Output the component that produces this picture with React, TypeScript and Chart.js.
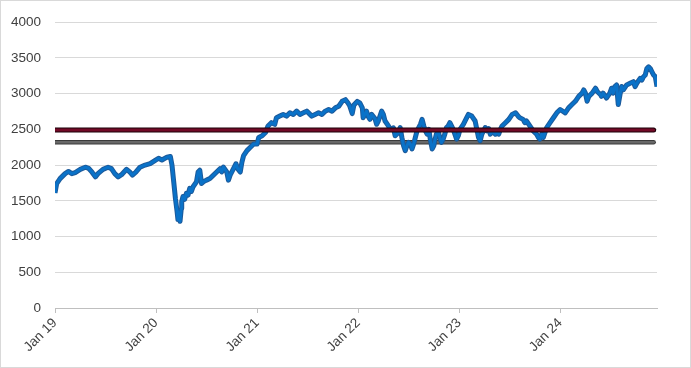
import React, { useEffect, useRef } from "react";
import { Chart, registerables } from "chart.js";

Chart.register(...registerables);

// x = months since Jan 2019
const months = [
  0.0, 0.2, 0.6, 1.2, 1.6, 2.0, 2.4, 3.0, 3.6, 4.0, 4.4, 4.8, 5.1, 5.7, 6.3, 6.7, 7.1, 7.5, 7.9, 8.5,
  8.9, 9.2, 9.6, 10.1, 10.7, 11.3, 11.9, 12.3, 12.7, 13.3, 13.7, 13.9, 14.1, 14.3, 14.5, 14.6, 14.7, 14.85, 15.0, 15.05,
  15.2, 15.4, 15.6, 15.8, 16.0, 16.2, 16.4, 16.8, 17.0, 17.2, 17.4, 17.6, 18.0, 18.4, 18.8, 19.2, 19.6, 19.8, 20.0, 20.4,
  20.6, 20.8, 21.2, 21.5, 21.7, 22.0, 22.2, 22.4, 22.8, 23.2, 23.6, 24.0, 24.2, 24.6, 25.0, 25.3, 25.7, 26.1, 26.3, 26.7,
  27.1, 27.5, 27.9, 28.3, 28.7, 29.1, 29.5, 29.9, 30.5, 30.9, 31.3, 31.7, 32.1, 32.5, 32.9, 33.3, 33.7, 34.1, 34.5, 34.8,
  35.0, 35.3, 35.5, 35.9, 36.2, 36.5, 36.6, 36.8, 37.0, 37.2, 37.4, 37.6, 38.0, 38.2, 38.4, 38.8, 39.0, 39.2, 39.6, 39.8,
  40.2, 40.4, 40.8, 41.0, 41.2, 41.4, 41.6, 41.8, 42.0, 42.2, 42.4, 42.6, 42.8, 43.0, 43.4, 43.6, 43.8, 44.0, 44.2, 44.4,
  44.6, 44.8, 45.0, 45.1, 45.3, 45.5, 45.7, 45.9, 46.1, 46.3, 46.5, 46.7, 46.9, 47.3, 47.7, 47.9, 48.1, 48.5, 48.9, 49.1,
  49.5, 49.9, 50.1, 50.3, 50.5, 50.7, 50.9, 51.1, 51.3, 51.5, 51.7, 51.9, 52.3, 52.5, 52.7, 52.9, 53.1, 53.5, 53.9, 54.3,
  54.7, 55.0, 55.2, 55.6, 55.8, 56.0, 56.4, 56.8, 57.2, 57.4, 57.6, 57.8, 58.0, 58.2, 58.4, 58.8, 59.2, 59.6, 60.0, 60.6,
  61.0, 61.4, 61.8, 62.2, 62.6, 62.8, 63.0, 63.2, 63.4, 63.8, 64.2, 64.4, 64.8, 64.9, 65.1, 65.5, 65.9, 66.1, 66.3, 66.5,
  66.7, 66.9, 67.1, 67.3, 67.5, 67.9, 68.3, 68.7, 68.9, 69.1, 69.5, 69.7, 69.9, 70.1, 70.3, 70.5, 70.7, 70.9, 71.1, 71.3,
  71.5,
];

const indexValues = [
  1610, 1740, 1810, 1880, 1910, 1880, 1895, 1940, 1970, 1955, 1900, 1835, 1880, 1940, 1970, 1950, 1880, 1835, 1865, 1940,
  1900, 1860, 1900, 1970, 2000, 2020, 2065, 2095, 2070, 2110, 2120, 1995, 1765, 1535, 1350, 1237, 1280, 1213, 1397, 1490,
  1560, 1520, 1604, 1580, 1673, 1630, 1696, 1765, 1903, 1927, 1742, 1765, 1789, 1811, 1858, 1903, 1949, 1903, 1972, 1903,
  1789, 1858, 1949, 2018, 1949, 1903, 2041, 2133, 2202, 2248, 2294, 2294, 2386, 2409, 2455, 2547, 2593, 2570, 2662, 2685,
  2708, 2685, 2731, 2708, 2754, 2708, 2731, 2754, 2685, 2708, 2731, 2708, 2754, 2777, 2754, 2800, 2823, 2892, 2915, 2869,
  2830, 2720, 2840, 2890, 2870, 2800, 2662, 2708, 2754, 2680, 2639, 2708, 2650, 2570, 2616, 2754, 2708, 2616, 2547, 2500,
  2520, 2409, 2455, 2524, 2386, 2271, 2202, 2271, 2317, 2294, 2225, 2294, 2386, 2478, 2570, 2639, 2547, 2478, 2432, 2500,
  2340, 2225, 2271, 2340, 2432, 2478, 2386, 2317, 2363, 2432, 2524, 2547, 2593, 2500, 2363, 2410, 2500, 2570, 2662, 2708,
  2685, 2616, 2500, 2386, 2340, 2432, 2478, 2524, 2478, 2510, 2432, 2478, 2432, 2478, 2432, 2500, 2547, 2593, 2639, 2708,
  2731, 2685, 2662, 2639, 2593, 2616, 2547, 2478, 2432, 2386, 2363, 2432, 2386, 2455, 2524, 2593, 2662, 2731, 2777, 2731,
  2800, 2846, 2892, 2961, 3006, 3052, 3006, 2892, 2961, 3006, 3075, 3029, 2984, 2961, 3006, 2938, 3006, 3075, 3006, 3098,
  3121, 2846, 2984, 3098, 3052, 3121, 3144, 3167, 3098, 3144, 3213, 3190, 3236, 3259, 3351, 3374, 3351, 3305, 3259, 3236,
  3098,
];

const levelRange = [0, 71.1];
const redLevel = [2490, 2490];
const greyLevel = [2320, 2320];

const yearTicks = [0, 12, 24, 36, 48, 60];
const yearLabels = ["Jan 19", "Jan 20", "Jan 21", "Jan 22", "Jan 23", "Jan 24"];

export default function App() {
  const ref = useRef<HTMLCanvasElement | null>(null);

  useEffect(() => {
    document.body.style.margin = "0";
    if (!ref.current) return;
    Chart.defaults.font.family = "'Liberation Sans', Arial, sans-serif";
    const series = months.map((m, i) => ({ x: m, y: indexValues[i] }));
    const red = levelRange.map((m, i) => ({ x: m, y: redLevel[i] }));
    const grey = levelRange.map((m, i) => ({ x: m, y: greyLevel[i] }));
    const base = { pointRadius: 0, tension: 0, fill: false, borderJoinStyle: "round" as const };
    const chart = new Chart(ref.current, {
      type: "line",
      data: {
        datasets: [
          { ...base, data: grey, borderColor: "#3a3a3a", borderWidth: 4.5, order: 10, borderCapStyle: "round" },
          { ...base, data: grey, borderColor: "#686868", borderWidth: 2.5, order: 9, borderCapStyle: "round" },
          { ...base, data: series, borderColor: "#1d5a9a", borderWidth: 5, order: 8 },
          { ...base, data: series, borderColor: "#0a72c8", borderWidth: 3, order: 7 },
          { ...base, data: red, borderColor: "#1a0008", borderWidth: 5, order: 6, borderCapStyle: "round" },
          { ...base, data: red, borderColor: "#720a26", borderWidth: 3, order: 5, borderCapStyle: "round" },
        ],
      },
      options: {
        animation: false,
        responsive: false,
        devicePixelRatio: 1,
        layout: { padding: { left: 0, top: 18, right: 34, bottom: 0 } },
        plugins: { legend: { display: false }, tooltip: { enabled: false } },
        scales: {
          x: {
            type: "linear",
            min: 0,
            max: 71.5,
            afterFit: (s: any) => {
              s.height = 60;
            },
            afterBuildTicks: (s: any) => {
              s.ticks = yearTicks.map((v) => ({ value: v }));
            },
            ticks: {
              minRotation: 45,
              maxRotation: 45,
              padding: 2,
              color: "#404040",
              font: { size: 13.5 },
              callback: (v: any) => {
                const i = yearTicks.indexOf(Number(v));
                return i >= 0 ? yearLabels[i] : "";
              },
            },
            grid: { drawOnChartArea: false, drawTicks: true, tickLength: 5, color: "#bfbfbf" },
            border: { display: true, color: "#bfbfbf", width: 1 },
          },
          y: {
            min: 0,
            max: 4000,
            afterFit: (s: any) => {
              s.width = 55;
            },
            ticks: {
              stepSize: 500,
              padding: 14,
              color: "#404040",
              font: { size: 13.5 },
              callback: (v: any) => String(v),
            },
            grid: { color: "#d9d9d9", drawTicks: false, lineWidth: 1 },
            border: { display: false },
          },
        },
      },
    });
    return () => chart.destroy();
  }, []);

  return (
    <div style={{ position: "absolute", left: 0, top: 0, width: 691, height: 368, background: "#fff" }}>
      <canvas ref={ref} width={691} height={368} style={{ display: "block" }} />
      <div
        style={{
          position: "absolute",
          inset: 0,
          border: "1px solid #d9d9d9",
          boxSizing: "border-box",
          pointerEvents: "none",
        }}
      />
    </div>
  );
}
